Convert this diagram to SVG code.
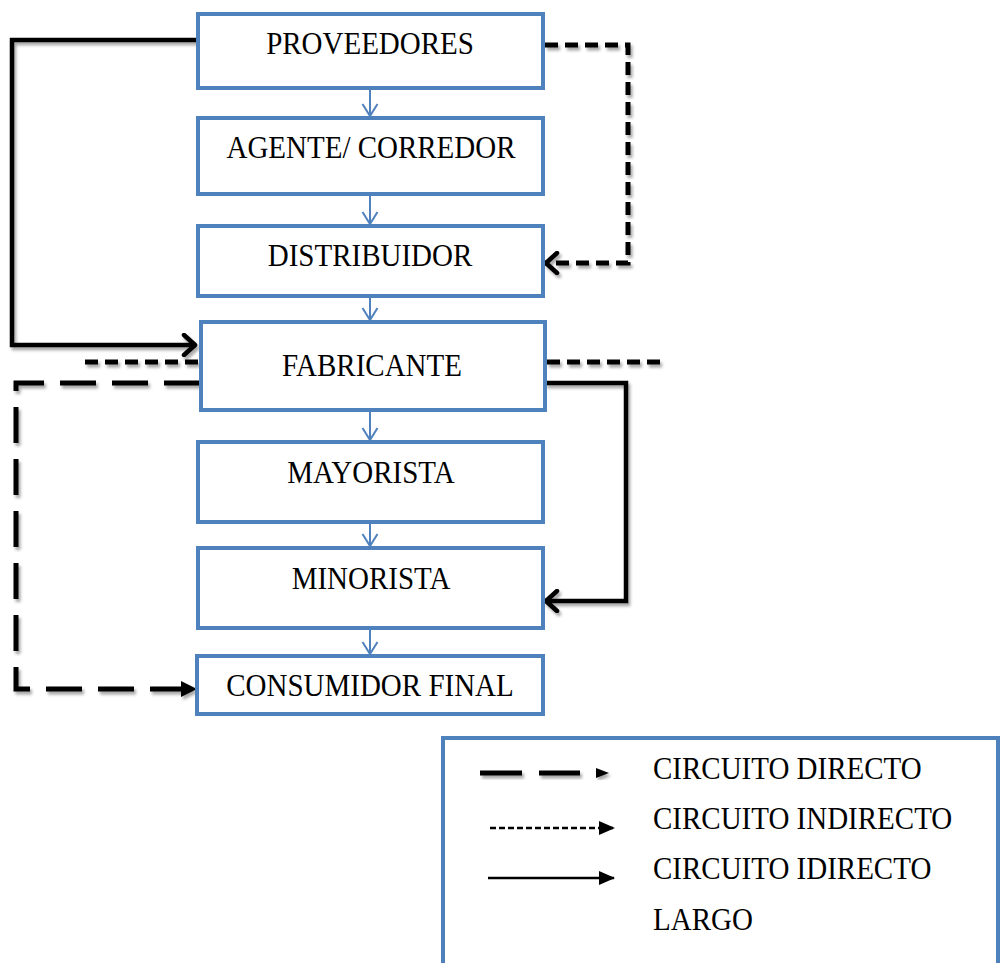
<svg xmlns="http://www.w3.org/2000/svg" width="1002" height="963" viewBox="0 0 1002 963">
  <defs>
    <filter id="shadow" x="-10%" y="-10%" width="130%" height="130%">
      <feDropShadow dx="2" dy="3" stdDeviation="1.6" flood-color="#000" flood-opacity="0.35"/>
    </filter>
    <marker id="blueHead" markerWidth="14" markerHeight="18" refX="13" refY="9" orient="auto" markerUnits="userSpaceOnUse" viewBox="0 0 14 18">
      <path d="M1,1.5 L13,9 L1,16.5" fill="none" stroke="#4F81BD" stroke-width="2"/>
    </marker>
    <marker id="openHead" markerWidth="22" markerHeight="24" refX="20" refY="12" orient="auto" markerUnits="userSpaceOnUse" viewBox="0 0 22 24">
      <path d="M8,2 L19,12 L8,22" fill="none" stroke="#000" stroke-width="4.5" stroke-linecap="round" stroke-linejoin="round"/>
    </marker>
    <marker id="solidHead" markerWidth="16" markerHeight="16" refX="15" refY="8" orient="auto" markerUnits="userSpaceOnUse" viewBox="0 0 16 16">
      <path d="M0,1 L16,8 L0,15 Z" fill="#000"/>
    </marker>
  </defs>
  <style>
    .box { fill: #ffffff; stroke: #4F81BD; stroke-width: 4; }
    .lbl { font-family: "Liberation Serif", "Times New Roman", serif; font-size: 29px; fill: #000; text-anchor: middle; }
    .leg { font-family: "Liberation Serif", "Times New Roman", serif; font-size: 29px; fill: #000; }
    .flow { fill: none; stroke: #4F81BD; stroke-width: 2; marker-end: url(#blueHead); }
    .solid { fill: none; stroke: #000; stroke-width: 4.5; }
    .short { fill: none; stroke: #000; stroke-width: 5; stroke-dasharray: 13 7; }
    .long { fill: none; stroke: #000; stroke-width: 5; stroke-dasharray: 36 16; }
  </style>

  <rect width="1002" height="963" fill="#ffffff"/>

  <!-- channel connectors -->
  <g id="connectors">
    <g id="flow-arrows">
      <line class="flow" x1="370" y1="90" x2="370" y2="116"/>
      <line class="flow" x1="370" y1="196" x2="370" y2="224"/>
      <line class="flow" x1="370" y1="298" x2="370" y2="320"/>
      <line class="flow" x1="370" y1="412" x2="370" y2="440"/>
      <line class="flow" x1="370" y1="524" x2="370" y2="546"/>
      <line class="flow" x1="370" y1="630" x2="370" y2="654"/>
    </g>
    <g filter="url(#shadow)">
      <!-- proveedores to fabricante, solid -->
      <polyline class="solid" points="198,40 12,40 12,345 196,345" marker-end="url(#openHead)"/>
      <!-- proveedores to distribuidor, short dash -->
      <polyline class="short" points="545,45 628,45 628,263 545,263" marker-end="url(#openHead)"/>
      <!-- dashed line through fabricante -->
      <line class="short" x1="85" y1="362" x2="200" y2="362"/>
      <line class="short" x1="547" y1="362" x2="665" y2="362"/>
      <!-- fabricante to consumidor final, long dash -->
      <polyline class="long" points="200,383 16,383 16,689 183,689"/>
      <path d="M181,681 L197,689 L181,697 Z" fill="#000"/>
      <!-- fabricante to minorista, solid -->
      <polyline class="solid" points="545,383 626,383 626,601 545,601" marker-end="url(#openHead)"/>
    </g>
  </g>

  <g id="proveedores">
    <rect class="box" x="198" y="14" width="345" height="74"/>
    <text class="lbl" transform="translate(370,54) scale(1,1.1)">PROVEEDORES</text>
  </g>
  <g id="agente-corredor">
    <rect class="box" x="198" y="118" width="345" height="76"/>
    <text class="lbl" transform="translate(371,158) scale(1,1.1)">AGENTE/ CORREDOR</text>
  </g>
  <g id="distribuidor">
    <rect class="box" x="198" y="226" width="345" height="70"/>
    <text class="lbl" transform="translate(370,266) scale(1,1.1)">DISTRIBUIDOR</text>
  </g>
  <g id="fabricante">
    <rect class="box" x="201" y="322" width="344" height="88"/>
    <text class="lbl" transform="translate(372,376) scale(1,1.1)">FABRICANTE</text>
  </g>
  <g id="mayorista">
    <rect class="box" x="198" y="442" width="345" height="80"/>
    <text class="lbl" transform="translate(371,483) scale(1,1.1)">MAYORISTA</text>
  </g>
  <g id="minorista">
    <rect class="box" x="198" y="548" width="345" height="80"/>
    <text class="lbl" transform="translate(371,589) scale(1,1.1)">MINORISTA</text>
  </g>
  <g id="consumidor-final">
    <rect class="box" x="197" y="656" width="346" height="58"/>
    <text class="lbl" transform="translate(370,696) scale(1,1.1)">CONSUMIDOR FINAL</text>
  </g>

  <!-- legend -->
  <g id="legend">
    <rect class="box" x="443" y="738" width="555" height="240"/>
    <g filter="url(#shadow)">
      <line x1="480" y1="773" x2="580" y2="773" stroke="#000" stroke-width="5" stroke-dasharray="42 17"/>
      <path d="M596,768 L609,773 L596,778 Z" fill="#000"/>
    </g>
    <line x1="490" y1="828" x2="614" y2="828" stroke="#000" stroke-width="2.5" stroke-dasharray="6 3" marker-end="url(#solidHead)"/>
    <line x1="488" y1="878" x2="614" y2="878" stroke="#000" stroke-width="2.5" marker-end="url(#solidHead)"/>
    <text class="leg" transform="translate(653,779) scale(1,1.1)">CIRCUITO DIRECTO</text>
    <text class="leg" transform="translate(653,829) scale(1,1.1)">CIRCUITO INDIRECTO</text>
    <text class="leg" transform="translate(653,879) scale(1,1.1)">CIRCUITO IDIRECTO</text>
    <text class="leg" transform="translate(653,930) scale(1,1.1)">LARGO</text>
  </g>
</svg>
